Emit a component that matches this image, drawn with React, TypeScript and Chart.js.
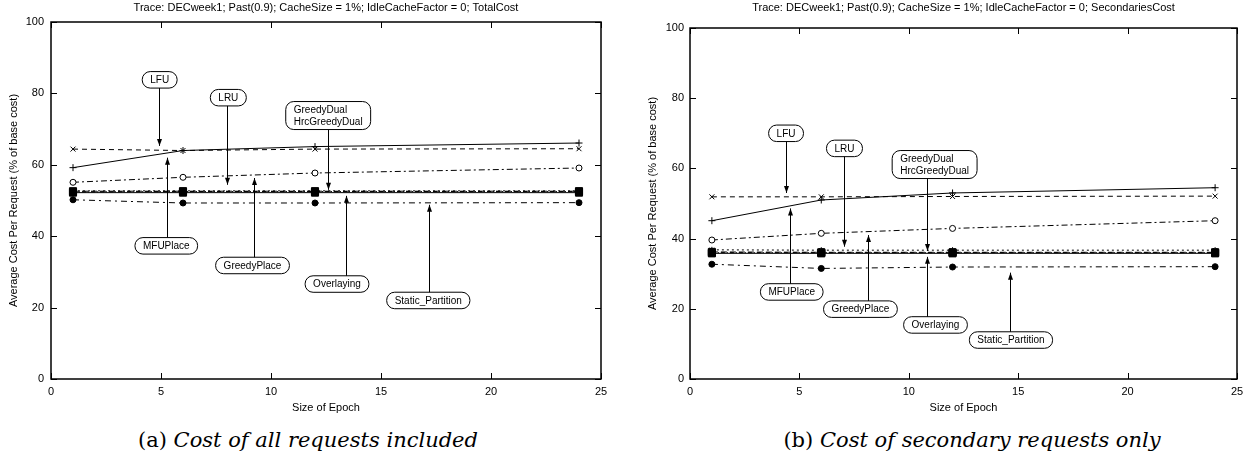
import React, { useEffect, useRef } from "react";
import { Chart, registerables } from "chart.js";
Chart.register(...registerables);

// ---------- data ----------
const EPOCHS = [1, 6, 12, 24];
const X_TICKS = [0, 5, 10, 15, 20, 25];
const Y_TICKS = [0, 20, 40, 60, 80, 100];

const TITLE_A = "Trace: DECweek1; Past(0.9); CacheSize = 1%; IdleCacheFactor = 0; TotalCost";
const TITLE_B = "Trace: DECweek1; Past(0.9); CacheSize = 1%; IdleCacheFactor = 0; SecondariesCost";
const X_TITLE = "Size of Epoch";
const Y_TITLE = "Average Cost Per Request (% of base cost)";
const CAPTION_A = ["(a)", "Cost of all requests included"];
const CAPTION_B = ["(b)", "Cost of secondary requests only"];

const SERIES_NAMES = ["LFU", "LRU", "GreedyDual", "HrcGreedyDual", "MFUPlace", "GreedyPlace", "Overlaying", "Static_Partition"];

// (a) total cost
const TOTAL_LFU = [64.4, 64.0, 64.4, 64.5];
const TOTAL_LRU = [52.7, 52.7, 52.7, 52.7];
const TOTAL_GREEDYDUAL = [52.6, 52.6, 52.6, 52.6];
const TOTAL_HRCGREEDYDUAL = [52.4, 52.5, 52.5, 52.5];
const TOTAL_MFUPLACE = [59.2, 64.0, 65.1, 66.1];
const TOTAL_GREEDYPLACE = [55.1, 56.5, 57.7, 59.1];
const TOTAL_OVERLAYING = [52.2, 52.2, 52.2, 52.2];
const TOTAL_STATIC = [50.2, 49.3, 49.3, 49.4];

// (b) secondaries cost
const SEC_LFU = [51.9, 51.9, 52.0, 52.1];
const SEC_LRU = [36.8, 36.7, 36.7, 36.7];
const SEC_GREEDYDUAL = [36.2, 36.1, 36.1, 36.1];
const SEC_HRCGREEDYDUAL = [36.0, 36.0, 36.0, 36.0];
const SEC_MFUPLACE = [45.1, 51.0, 53.0, 54.5];
const SEC_GREEDYPLACE = [39.6, 41.5, 42.9, 45.1];
const SEC_OVERLAYING = [35.8, 35.8, 35.8, 35.8];
const SEC_STATIC = [32.7, 31.5, 31.9, 32.0];

const TOTAL_SERIES = [TOTAL_LFU, TOTAL_LRU, TOTAL_GREEDYDUAL, TOTAL_HRCGREEDYDUAL, TOTAL_MFUPLACE, TOTAL_GREEDYPLACE, TOTAL_OVERLAYING, TOTAL_STATIC];
const SEC_SERIES = [SEC_LFU, SEC_LRU, SEC_GREEDYDUAL, SEC_HRCGREEDYDUAL, SEC_MFUPLACE, SEC_GREEDYPLACE, SEC_OVERLAYING, SEC_STATIC];

// annotation labels (box centre and arrow in data units)
const NOTES_A = [
  { text: ["LFU"], bx: 4.94, by: 83.8, ax: 4.92, ay: 65.3 },
  { text: ["LRU"], bx: 8.06, by: 78.8, ax: 8.01, ay: 54.4 },
  { text: ["GreedyDual", "HrcGreedyDual"], bx: 12.6, by: 73.8, ax: 12.59, ay: 53.0 },
  { text: ["MFUPlace"], bx: 5.24, by: 37.3, ax: 5.27, ay: 62.0 },
  { text: ["GreedyPlace"], bx: 9.16, by: 31.8, ax: 9.21, ay: 56.3 },
  { text: ["Overlaying"], bx: 13.0, by: 26.6, ax: 13.4, ay: 51.3 },
  { text: ["Static_Partition"], bx: 17.15, by: 22.0, ax: 17.2, ay: 48.8 },
];
const NOTES_B = [
  { text: ["LFU"], bx: 4.39, by: 70.0, ax: 4.37, ay: 53.0 },
  { text: ["LRU"], bx: 7.06, by: 65.7, ax: 7.04, ay: 37.7 },
  { text: ["GreedyDual", "HrcGreedyDual"], bx: 11.18, by: 61.1, ax: 10.82, ay: 36.5 },
  { text: ["MFUPlace"], bx: 4.65, by: 24.8, ax: 4.58, ay: 48.6 },
  { text: ["GreedyPlace"], bx: 7.79, by: 19.9, ax: 8.15, ay: 41.0 },
  { text: ["Overlaying"], bx: 11.22, by: 15.4, ax: 10.82, ay: 34.8 },
  { text: ["Static_Partition"], bx: 14.67, by: 11.1, ax: 14.63, ay: 30.3 },
];

// ---------- styles ----------
const STYLES: Record<string, any> = {
  LFU: { dash: [5, 4], point: "crossRot", r: 3.5, fill: false },
  LRU: { dash: [2, 3], point: "star", r: 3, fill: false },
  GreedyDual: { dash: [6, 3], point: "rect", r: 5, fill: true },
  HrcGreedyDual: { dash: [4, 2, 1, 2], point: "rect", r: 5, fill: true },
  MFUPlace: { dash: [], point: "cross", r: 3.5, fill: false },
  GreedyPlace: { dash: [6, 3, 2, 3], point: "circle", r: 3, fill: false },
  Overlaying: { dash: [], point: "rect", r: 5, fill: true },
  Static_Partition: { dash: [6, 4, 2, 4], point: "circle", r: 3, fill: true },
};

const FONT = '"Liberation Sans", Arial, sans-serif';
const INK = "#000";

function decorPlugin(title: string, notes: any[]) {
  return {
    id: "decor",
    afterDraw(chart: any) {
      const { ctx, chartArea: a, scales } = chart;
      const xs = scales.x;
      const ys = scales.y;
      ctx.save();
      // frame
      ctx.strokeStyle = INK;
      ctx.lineWidth = 1.5;
      ctx.setLineDash([]);
      ctx.strokeRect(a.left, a.top, a.right - a.left, a.bottom - a.top);
      // inward ticks
      ctx.lineWidth = 1;
      const TL = 6;
      ctx.beginPath();
      X_TICKS.forEach((v) => {
        const p = Math.round(xs.getPixelForValue(v)) + 0.5;
        ctx.moveTo(p, a.bottom); ctx.lineTo(p, a.bottom - TL);
        ctx.moveTo(p, a.top); ctx.lineTo(p, a.top + TL);
      });
      Y_TICKS.forEach((v) => {
        const p = Math.round(ys.getPixelForValue(v)) + 0.5;
        ctx.moveTo(a.left, p); ctx.lineTo(a.left + TL, p);
        ctx.moveTo(a.right, p); ctx.lineTo(a.right - TL, p);
      });
      ctx.stroke();
      // titles
      ctx.fillStyle = INK;
      ctx.font = `11px ${FONT}`;
      ctx.textAlign = "center";
      ctx.textBaseline = "middle";
      const cx = (a.left + a.right) / 2;
      ctx.fillText(title, cx, 8);
      ctx.fillText(X_TITLE, cx, a.bottom + 29);
      ctx.save();
      ctx.translate(a.left - 37.5, (a.top + a.bottom) / 2);
      ctx.rotate(-Math.PI / 2);
      ctx.fillText(Y_TITLE, 0, 0);
      ctx.restore();
      // annotations
      ctx.font = `10px ${FONT}`;
      const LH = 11.5;
      notes.forEach((n) => {
        const bxp = xs.getPixelForValue(n.bx);
        const byp = ys.getPixelForValue(n.by);
        const tw = Math.max(...n.text.map((t: string) => ctx.measureText(t).width));
        const w = tw + 16;
        const h = n.text.length * LH + 5;
        const left = bxp - w / 2;
        const top = byp - h / 2;
        const r = Math.min(h / 2, 8);
        ctx.beginPath();
        ctx.roundRect(left, top, w, h, r);
        ctx.fillStyle = "#fff";
        ctx.fill();
        ctx.strokeStyle = INK;
        ctx.lineWidth = 1;
        ctx.stroke();
        ctx.fillStyle = INK;
        ctx.textAlign = "left";
        ctx.textBaseline = "middle";
        n.text.forEach((t: string, i: number) => {
          ctx.fillText(t, left + 8, top + 2.5 + LH * (i + 0.5) + 0.5);
        });
        // arrow
        const axp = Math.round(xs.getPixelForValue(n.ax)) + 0.5;
        const tip = ys.getPixelForValue(n.ay);
        const up = tip < top;
        const start = up ? top : top + h;
        ctx.beginPath();
        ctx.moveTo(axp, start);
        ctx.lineTo(axp, tip);
        ctx.stroke();
        const dir = up ? 1 : -1;
        ctx.beginPath();
        ctx.moveTo(axp, tip);
        ctx.lineTo(axp - 2.5, tip + dir * 7);
        ctx.lineTo(axp + 2.5, tip + dir * 7);
        ctx.closePath();
        ctx.fill();
      });
      ctx.restore();
    },
  };
}

function Panel(props: { left: number; width: number; title: string; series: number[][]; notes: any[]; padTop: number; padRight: number; yWidth: number; tickPad: number }) {
  const ref = useRef<HTMLCanvasElement>(null);
  useEffect(() => {
    const datasets = SERIES_NAMES.map((name, i) => {
      const s = STYLES[name];
      return {
        label: name,
        data: EPOCHS.map((x, j) => ({ x, y: props.series[i][j] })),
        borderColor: INK,
        borderWidth: 1,
        borderDash: s.dash,
        pointStyle: s.point,
        pointRadius: s.r,
        pointBorderWidth: 1,
        pointBorderColor: INK,
        pointBackgroundColor: s.fill ? INK : "#fff",
        tension: 0,
        fill: false,
      };
    });
    const chart = new Chart(ref.current as HTMLCanvasElement, {
      type: "line",
      data: { datasets } as any,
      options: {
        animation: false,
        responsive: false,
        maintainAspectRatio: false,
        layout: { padding: { top: props.padTop, right: props.padRight, left: 0, bottom: 0 } },
        plugins: { legend: { display: false }, tooltip: { enabled: false }, title: { display: false } },
        scales: {
          x: {
            type: "linear",
            min: 0,
            max: 25,
            grid: { display: false, drawTicks: false },
            border: { display: false },
            afterBuildTicks: (s: any) => { s.ticks = X_TICKS.map((v) => ({ value: v })); },
            afterFit: (s: any) => { s.height = 41; },
            ticks: { color: INK, font: { family: FONT, size: 11 }, padding: 6, maxRotation: 0, autoSkip: false },
          },
          y: {
            type: "linear",
            min: 0,
            max: 100,
            grid: { display: false, drawTicks: false },
            border: { display: false },
            afterBuildTicks: (s: any) => { s.ticks = Y_TICKS.map((v) => ({ value: v })); },
            afterFit: (s: any) => { s.width = props.yWidth; },
            ticks: { color: INK, font: { family: FONT, size: 11 }, padding: props.tickPad },
          },
        },
      } as any,
      plugins: [decorPlugin(props.title, props.notes)],
    });
    return () => chart.destroy();
  }, []);
  return (
    <canvas
      ref={ref}
      width={props.width}
      height={420}
      style={{ position: "absolute", left: props.left, top: 0, width: props.width, height: 420 }}
    />
  );
}

function Caption(props: { parts: string[]; center: number }) {
  return (
    <div
      style={{
        position: "absolute",
        left: props.center - 300,
        width: 600,
        top: 427,
        textAlign: "center",
        fontFamily: '"DejaVu Serif", serif',
        fontSize: 21,
        lineHeight: "26px",
        color: "#000",
        whiteSpace: "nowrap",
      }}
    >
      <span>{props.parts[0]} </span>
      <span style={{ fontStyle: "italic" }}>{props.parts[1]}</span>
    </div>
  );
}

export default function App() {
  return (
    <div style={{ position: "absolute", left: 0, top: 0, width: 1251, height: 465, background: "#fff", overflow: "hidden" }}>
      <Panel left={0} width={625} title={TITLE_A} series={TOTAL_SERIES} notes={NOTES_A} padTop={22} padRight={24} yWidth={51} tickPad={7} />
      <Panel left={625} width={626} title={TITLE_B} series={SEC_SERIES} notes={NOTES_B} padTop={28} padRight={14} yWidth={65} tickPad={6} />
      <Caption parts={CAPTION_A} center={308} />
      <Caption parts={CAPTION_B} center={972} />
    </div>
  );
}
